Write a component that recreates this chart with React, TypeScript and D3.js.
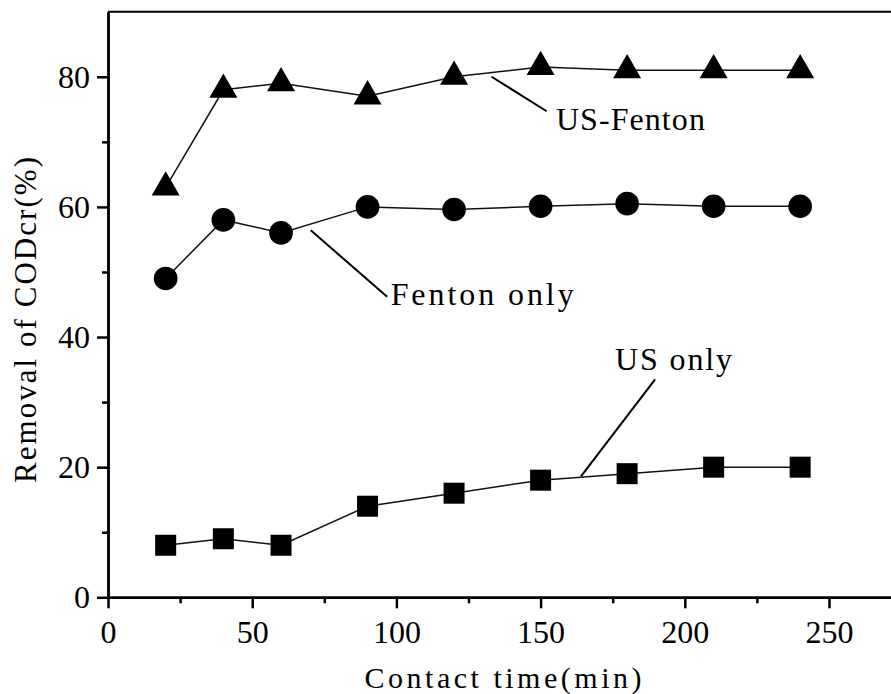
import React, { useEffect, useRef } from 'react';
import * as d3 from 'd3';

// contact time (min)
const times = [20, 40, 60, 90, 120, 150, 180, 210, 240];
// removal of CODcr (%)
const usFenton = [63, 78, 79, 77, 80, 81.5, 81, 81, 81];
const fentonOnly = [49, 58, 56, 60, 59.6, 60.1, 60.5, 60.1, 60.1];
const usOnly = [8, 9, 8, 14, 16, 18, 19, 20, 20];

const xTicks = [0, 50, 100, 150, 200, 250];
const xMinor = [25, 75, 125, 175, 225, 275];
const yTicks = [0, 20, 40, 60, 80];
const yMinor = [10, 30, 50, 70];

// label text, leader start, leader end, text anchor (data units)
const notes = [
  { text: 'US-Fenton', from: [133, 80], to: [152.1, 74.7], at: [155.3, 71.8], len: 149 },
  { text: 'Fenton only', from: [70.3, 56.4], to: [96.8, 46.2], at: [98, 44.9], len: 183 },
  { text: 'US only', from: [189.7, 33.5], to: [164, 18.6], at: [175.8, 34.9], len: 117 },
];

const W = 891;
const H = 694;
const serif = '"Liberation Serif", "Times New Roman", serif';

const App = () => {
  const svgRef = useRef<SVGSVGElement>(null);

  useEffect(() => {
    const svg = d3.select(svgRef.current);
    svg.selectAll('*').remove();

    const x = d3.scaleLinear().domain([0, 275]).range([108, 108 + 275 * 2.884]);
    const y = d3.scaleLinear().domain([0, 90]).range([597.3, 11.7]);

    // top frame line
    svg.append('line')
      .attr('x1', x(0)).attr('x2', x(275))
      .attr('y1', y(90)).attr('y2', y(90))
      .attr('stroke', '#000').attr('stroke-width', 2);

    const styleAxis = (g) => {
      g.select('.domain').attr('stroke-width', 2.5);
      g.selectAll('.tick line').attr('stroke-width', 2.5);
      g.selectAll('text').attr('font-family', serif).attr('font-size', 32).attr('fill', '#000');
    };

    svg.append('g')
      .attr('transform', `translate(0,${y(0)})`)
      .call(d3.axisBottom(x).tickValues(xMinor).tickSize(6).tickFormat(() => '').tickSizeOuter(0))
      .call(styleAxis);
    svg.append('g')
      .attr('transform', `translate(0,${y(0)})`)
      .call(d3.axisBottom(x).tickValues(xTicks).tickSize(11).tickPadding(12).tickSizeOuter(0))
      .call(styleAxis);

    svg.append('g')
      .attr('transform', `translate(${x(0)},0)`)
      .call(d3.axisLeft(y).tickValues(yMinor).tickSize(6).tickFormat(() => '').tickSizeOuter(0))
      .call(styleAxis);
    svg.append('g')
      .attr('transform', `translate(${x(0)},0)`)
      .call(d3.axisLeft(y).tickValues(yTicks).tickSize(11).tickPadding(7).tickSizeOuter(0))
      .call(styleAxis);

    const line = d3.line<[number, number]>().x(d => x(d[0])).y(d => y(d[1]));
    const series = [
      { vals: usFenton, shape: d3.symbolTriangle, size: 340 },
      { vals: fentonOnly, shape: d3.symbolCircle, size: 440 },
      { vals: usOnly, shape: d3.symbolSquare, size: 441 },
    ];

    series.forEach(s => {
      const pts = times.map((t, i) => [t, s.vals[i]] as [number, number]);
      svg.append('path')
        .attr('d', line(pts))
        .attr('fill', 'none')
        .attr('stroke', '#111')
        .attr('stroke-width', 1.5);
      svg.append('g').selectAll('path')
        .data(pts)
        .enter().append('path')
        .attr('transform', d => `translate(${x(d[0])},${y(d[1])})`)
        .attr('d', d3.symbol().type(s.shape).size(s.size)())
        .attr('fill', '#000');
    });

    // annotations
    notes.forEach(n => {
      svg.append('line')
        .attr('x1', x(n.from[0])).attr('y1', y(n.from[1]))
        .attr('x2', x(n.to[0])).attr('y2', y(n.to[1]))
        .attr('stroke', '#000').attr('stroke-width', 2);
      svg.append('text')
        .attr('x', x(n.at[0])).attr('y', y(n.at[1]))
        .attr('font-family', serif).attr('font-size', 32)
        .attr('textLength', n.len).attr('lengthAdjust', 'spacing')
        .text(n.text);
    });

    // axis titles
    svg.append('text')
      .attr('x', 503).attr('y', 688)
      .attr('text-anchor', 'middle')
      .attr('font-family', serif).attr('font-size', 30)
      .attr('textLength', 277).attr('lengthAdjust', 'spacing')
      .text('Contact time(min)');
    svg.append('text')
      .attr('transform', 'translate(36,320) rotate(-90)')
      .attr('text-anchor', 'middle')
      .attr('font-family', serif).attr('font-size', 31)
      .attr('textLength', 326).attr('lengthAdjust', 'spacing')
      .text('Removal of CODcr(%)');
  }, []);

  return (
    <svg
      ref={svgRef}
      width={W}
      height={H}
      style={{ position: 'absolute', left: 0, top: 0, background: '#fff' }}
    />
  );
};

export default App;
